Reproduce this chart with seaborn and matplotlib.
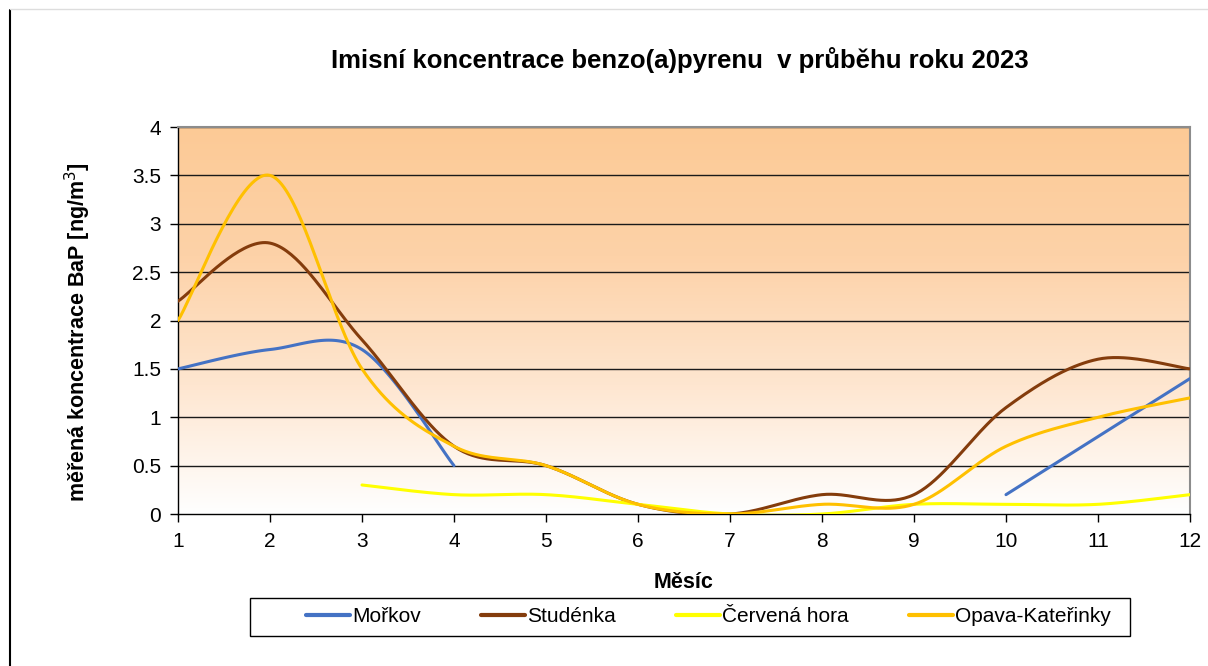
import numpy as np
import pandas as pd
import matplotlib
matplotlib.use("Agg")
import matplotlib.pyplot as plt
from matplotlib.colors import LinearSegmentedColormap
from matplotlib.lines import Line2D
from matplotlib.patches import Rectangle
import seaborn as sns

sns.set_theme(style="white")
plt.rcParams["font.family"] = ["Liberation Sans", "DejaVu Sans"]
plt.rcParams["text.color"] = "black"
plt.rcParams["axes.labelcolor"] = "black"

# Monthly measured BaP concentrations [ng/m3]; NaN = no measurement
months = [1, 2, 3, 4, 5, 6, 7, 8, 9, 10, 11, 12]
morkov = [1.5, 1.7, 1.7, 0.5, np.nan, np.nan, np.nan, np.nan, np.nan, 0.2, 0.8, 1.4]
studenka = [2.2, 2.8, 1.8, 0.7, 0.5, 0.1, 0.0, 0.2, 0.2, 1.1, 1.6, 1.5]
cervena_hora = [np.nan, np.nan, 0.3, 0.2, 0.2, 0.1, 0.0, 0.0, 0.1, 0.1, 0.1, 0.2]
opava = [2.0, 3.5, 1.5, 0.7, 0.5, 0.1, 0.0, 0.1, 0.1, 0.7, 1.0, 1.2]

series_names = ["Mořkov", "Studénka", "Červená hora", "Opava-Kateřinky"]
series_values = [morkov, studenka, cervena_hora, opava]
series_colors = ["#4472C4", "#843C0C", "#FFFF00", "#FFC000"]
y_ticks = [0, 0.5, 1, 1.5, 2, 2.5, 3, 3.5, 4]
y_tick_labels = ["0", "0.5", "1", "1.5", "2", "2.5", "3", "3.5", "4"]


def smooth_segments(x, y, n=40):
    """Cubic Bezier smoothing through points (spreadsheet-style smoothed line).
    Gaps (NaN) split the series into separate segments."""
    x = np.asarray(x, float)
    y = np.asarray(y, float)
    segs, cur = [], []
    for xi, yi in zip(x, y):
        if np.isnan(yi):
            if cur:
                segs.append(cur)
            cur = []
        else:
            cur.append((xi, yi))
    if cur:
        segs.append(cur)
    out = []
    for seg in segs:
        p = np.array(seg)
        if len(p) < 2:
            continue
        xs, ys = [], []
        for i in range(len(p) - 1):
            p0 = p[i - 1] if i > 0 else p[i]
            p1, p2 = p[i], p[i + 1]
            p3 = p[i + 2] if i + 2 < len(p) else p[i + 1]
            c1 = p1 + (p2 - p0) / 6.0
            c2 = p2 - (p3 - p1) / 6.0
            t = np.linspace(0, 1, n)[:, None]
            b = ((1 - t) ** 3) * p1 + 3 * ((1 - t) ** 2) * t * c1 + 3 * (1 - t) * t ** 2 * c2 + t ** 3 * p2
            xs.extend(b[:, 0])
            ys.extend(b[:, 1])
        out.append((np.array(xs), np.array(ys)))
    return out


W, H = 1208, 666
fig = plt.figure(figsize=(W / 100, H / 100), dpi=100)
fig.patch.set_facecolor("white")
ax = fig.add_axes([178 / W, 1 - 514 / H, (1190 - 178) / W, (514 - 127) / H])

# gradient plot-area fill: orange at the top fading to white at the bottom
cmap = LinearSegmentedColormap.from_list("bg", ["#FFFFFF", "#FEE6D0", "#FDD2A8", "#FCCA96"], N=256)
grad = np.linspace(0, 1, 256)[:, None]
ax.imshow(grad, aspect="auto", cmap=cmap, origin="lower",
          extent=[1, 12, 0, 4], zorder=0, interpolation="bicubic")

for yt in y_ticks[1:]:
    ax.axhline(yt, color="#1a1a1a", lw=1.0, zorder=1)

for name, vals, col in zip(series_names, series_values, series_colors):
    for sx, sy in smooth_segments(months, vals):
        df = pd.DataFrame({"x": sx, "y": sy})
        sns.lineplot(data=df, x="x", y="y", ax=ax, color=col, lw=2.2, sort=False,
                     estimator=None, zorder=3, legend=False)

ax.set_xlim(1, 12)
ax.set_ylim(0, 4)
ax.set_xticks(months)
ax.set_xticklabels([str(m) for m in months], fontsize=15)
ax.set_yticks(y_ticks)
ax.set_yticklabels(y_tick_labels, fontsize=15)
ax.tick_params(axis="x", direction="out", length=6, width=1, color="black",
               labelcolor="black", pad=7, bottom=True)
ax.tick_params(axis="y", direction="out", length=6, width=1, color="black",
               labelcolor="black", pad=6, left=True)
for side in ["left", "bottom"]:
    ax.spines[side].set_color("black")
    ax.spines[side].set_linewidth(1.0)
for side in ["top", "right"]:
    ax.spines[side].set_color("#8c8c8c")
    ax.spines[side].set_linewidth(1.5)

ax.set_xlabel("Měsíc", fontsize=15.5, fontweight="bold", labelpad=15)
ax.set_ylabel("měřená koncentrace BaP [ng/m$^3$]", fontsize=15.5, fontweight="bold", labelpad=28.5)
ax.yaxis.label.set_y(0.47)
fig.text(680 / W, 1 - 60 / H, "Imisní koncentrace benzo(a)pyrenu  v průběhu roku 2023",
         ha="center", va="center", fontsize=18.5, fontweight="bold", color="black")

# legend: frame drawn separately, entries in a single row
fig.add_artist(Rectangle((250 / W, 1 - 636 / H), (1130 - 250) / W, (636 - 598) / H,
                         transform=fig.transFigure, fill=False, edgecolor="black", lw=1.0))
handles = [Line2D([0], [0], color=c, lw=3) for c in series_colors]
leg = fig.legend(handles, series_names, loc="center left", ncol=4,
                 bbox_to_anchor=(306 / W, 1 - 617 / H), fontsize=15,
                 frameon=False, handlelength=2.1, handletextpad=0.1,
                 columnspacing=2.9, borderpad=0.0, borderaxespad=0.0)
for txt in leg.get_texts():
    txt.set_color("black")

# outer frame lines of the chart object
fig.add_artist(Line2D([10 / W, 10 / W], [0, 1 - 10 / H], color="black", lw=1.5))
fig.add_artist(Line2D([10 / W, 1], [1 - 9 / H, 1 - 9 / H], color="#dddddd", lw=1))

fig.savefig("out.png", dpi=100)
